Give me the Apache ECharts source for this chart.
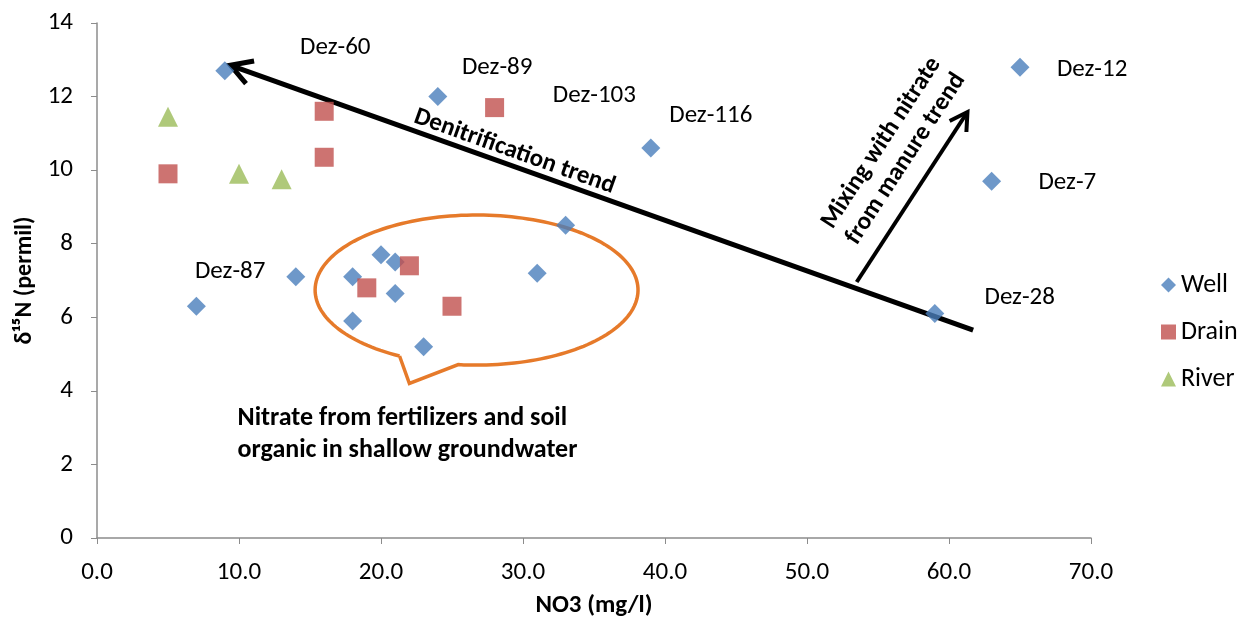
<!DOCTYPE html>
<html>
<head>
<meta charset="utf-8">
<script src="https://cdn.jsdelivr.net/npm/echarts@6/dist/echarts.min.js"></script>
<style>
html, body { margin: 0; padding: 0; background: #fff; }
#main { width: 1237px; height: 626px; }
</style>
</head>
<body>
<div id="main"></div>
<script>
// [NO3 (mg/l), d15N (permil)]
var well = [[9, 12.7], [24, 12.0], [39, 10.6], [65, 12.8], [63, 9.7], [59, 6.1],
  [7, 6.3], [14, 7.1], [18, 7.1], [20, 7.7], [21, 7.5], [21, 6.65], [18, 5.9],
  [23, 5.2], [31, 7.2], [33, 8.5]];
var drain = [[5, 9.9], [16, 11.6], [16, 10.35], [28, 11.7], [22, 7.4], [19, 6.8], [25, 6.3]];
var river = [[5, 11.45], [10, 9.9], [13, 9.75]];

// sample names, anchored at the left end of the text
var sampleNames = ["Dez-60", "Dez-89", "Dez-103", "Dez-116", "Dez-12", "Dez-7", "Dez-28", "Dez-87"];
var sampleAnchors = [[14.3, 13.32], [25.7, 12.77], [32.1, 12.01], [40.3, 11.49],
  [67.6, 12.74], [66.3, 9.65], [62.5, 6.52], [6.9, 7.23]];

// trend arrows [tail, tip]
var denitArrow = [[61.7, 5.65], [9.4, 12.85]];
var mixArrow = [[53.5, 6.96], [61.3, 11.58]];

// shallow groundwater bubble
var bubbleCenter = [26.73, 6.74];
var bubbleRadius = [11.37, 2.04];
var bubbleTip = [22.0, 4.2];

var FONT = "Carlito, Lato, 'Open Sans', sans-serif";
var INK = "#000";

var chart = echarts.init(document.getElementById("main"));

chart.setOption({
  backgroundColor: "#fff",
  animation: false,
  grid: { left: 97, right: 146, top: 23, bottom: 88 },
  legend: {
    data: ["Well", "Drain", "River"],
    orient: "vertical",
    left: 1156,
    top: 266,
    itemWidth: 15,
    itemHeight: 15,
    itemGap: 19,
    textStyle: { fontFamily: FONT, fontSize: 26, color: INK, lineHeight: 28 },
  },
  xAxis: {
    type: "value",
    min: 0,
    max: 70,
    interval: 10,
    name: "NO3 (mg/l)",
    nameLocation: "middle",
    nameGap: 55,
    nameTextStyle: { fontFamily: FONT, fontSize: 25, fontWeight: "bold", color: INK },
    axisLine: { show: true, lineStyle: { color: "#8c8c8c", width: 1.5 } },
    axisTick: { show: true, length: 6, lineStyle: { color: "#8c8c8c" } },
    axisLabel: {
      margin: 22,
      fontFamily: FONT,
      fontSize: 25,
      color: INK,
      formatter: function (v) { return v.toFixed(1); },
    },
    splitLine: { show: false },
  },
  yAxis: {
    type: "value",
    min: 0,
    max: 14,
    interval: 2,
    name: "δ¹⁵N (permil)",
    nameLocation: "middle",
    nameGap: 58,
    nameTextStyle: { fontFamily: FONT, fontSize: 24, fontWeight: "bold", color: INK },
    axisLine: { show: true, lineStyle: { color: "#8c8c8c", width: 1.5 } },
    axisTick: { show: true, length: 6, lineStyle: { color: "#8c8c8c" } },
    axisLabel: { margin: 24, fontFamily: FONT, fontSize: 25, color: INK },
    splitLine: { show: false },
  },
  series: [
    {
      name: "Well",
      type: "scatter",
      symbol: "diamond",
      symbolSize: 19,
      itemStyle: { color: "#4a7ebb" },
      data: well,
    },
    {
      name: "Drain",
      type: "scatter",
      symbol: "rect",
      symbolSize: 19,
      itemStyle: { color: "#c0504d" },
      data: drain,
    },
    {
      name: "River",
      type: "scatter",
      symbol: "triangle",
      symbolSize: 20,
      itemStyle: { color: "#9bbb59" },
      data: river,
    },
  ],
});

// annotations drawn through the grid's own scales
function px(p) { return chart.convertToPixel({ gridIndex: 0 }, p); }

function arrow(pair, width, head) {
  var a = px(pair[0]), b = px(pair[1]);
  var ang = Math.atan2(a[1] - b[1], a[0] - b[0]);
  var w = Math.PI / 6;
  var l = [b[0] + head * Math.cos(ang + w), b[1] + head * Math.sin(ang + w)];
  var r = [b[0] + head * Math.cos(ang - w), b[1] + head * Math.sin(ang - w)];
  return [
    { type: "polyline", shape: { points: [a, b] }, style: { stroke: "#000", lineWidth: width, fill: null } },
    { type: "polyline", shape: { points: [l, b, r] }, style: { stroke: "#000", lineWidth: width, fill: null } },
  ];
}

var c = px(bubbleCenter);
var e = px([bubbleCenter[0] + bubbleRadius[0], bubbleCenter[1] + bubbleRadius[1]]);
var rx = e[0] - c[0], ry = c[1] - e[1];
var pts = [];
for (var t = 118.5; t <= 458; t += 2) {
  var rad = (t * Math.PI) / 180;
  pts.push([c[0] + rx * Math.cos(rad), c[1] + ry * Math.sin(rad)]);
}
pts.push(px(bubbleTip));
pts.push(pts[0]);

var d0 = px(denitArrow[1]), d1 = px(denitArrow[0]);
var denitAngle = Math.atan2(d1[1] - d0[1], d1[0] - d0[0]);
var m0 = px(mixArrow[0]), m1 = px(mixArrow[1]);
var mixAngle = Math.atan2(m0[1] - m1[1], m1[0] - m0[0]);

var denitPos = px([29.4, 10.5]);
var mixPos = px([56.1, 10.52]);
var notePos = px([9.9, 3.26]);

var sampleTexts = sampleNames.map(function (n, i) {
  var p = px(sampleAnchors[i]);
  return {
    type: "text",
    x: p[0],
    y: p[1],
    silent: true,
    style: { text: n, font: "25px " + FONT, fill: INK, align: "left", verticalAlign: "middle" },
  };
});

chart.setOption({
  graphic: [].concat(
    sampleTexts,
    arrow(denitArrow, 5, 24),
    arrow(mixArrow, 4, 20),
    [
      {
        type: "polyline",
        shape: { points: pts },
        style: { stroke: "#e67a2a", lineWidth: 3.5, fill: null },
      },
      {
        type: "text",
        x: denitPos[0],
        y: denitPos[1],
        rotation: -denitAngle,
        style: {
          text: "Denitrification trend",
          font: "bold 25px " + FONT,
          fill: INK,
          align: "center",
          verticalAlign: "middle",
        },
      },
      {
        type: "text",
        x: mixPos[0],
        y: mixPos[1],
        rotation: mixAngle,
        style: {
          text: "Mixing with nitrate\nfrom manure trend",
          font: "bold 25px " + FONT,
          fill: INK,
          align: "center",
          verticalAlign: "middle",
          lineHeight: 29,
        },
      },
      {
        type: "text",
        x: notePos[0],
        y: notePos[1] - 16,
        style: {
          text: "Nitrate from fertilizers and soil\norganic in shallow groundwater",
          font: "bold 26px " + FONT,
          fill: INK,
          align: "left",
          verticalAlign: "top",
          lineHeight: 32,
        },
      },
    ]
  ),
});
</script>
</body>
</html>
